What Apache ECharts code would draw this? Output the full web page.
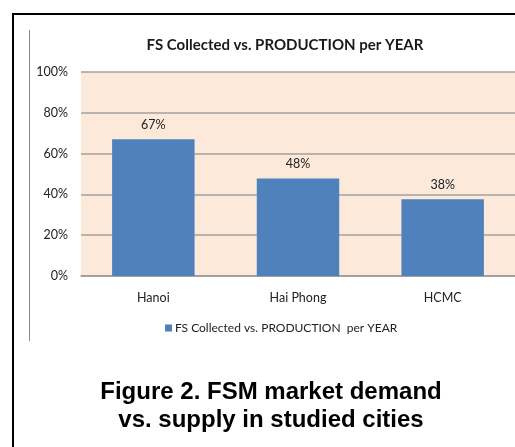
<!DOCTYPE html>
<html>
<head>
<meta charset="utf-8">
<script src="https://cdn.jsdelivr.net/npm/echarts@6/dist/echarts.min.js"></script>
<style>
html,body{margin:0;padding:0;background:#fff;}
#c{width:515px;height:447px;}
</style>
</head>
<body>
<div id="c"></div>
<script>
var categories = ['Hanoi', 'Hai Phong', 'HCMC'];
var values = [67, 47.8, 37.6];
var yTicks = [0, 20, 40, 60, 80, 100];
var seriesName = 'FS Collected vs. PRODUCTION  per YEAR';
var chartTitle = 'FS Collected vs. PRODUCTION per YEAR';
var caption = 'Figure 2. FSM market demand\nvs. supply in studied cities';

var chart = echarts.init(document.getElementById('c'), null, {renderer: 'canvas'});
var font = 'Lato, "Open Sans", sans-serif';
chart.setOption({
  animation: false,
  backgroundColor: '#ffffff',
  title: [
    {
      text: chartTitle, left: 280, top: 33, textAlign: 'center',
      textStyle: {fontFamily: font, fontSize: 15, fontWeight: 'bold', color: '#1a1a1a'}
    },
    {
      text: caption, left: 266, top: 373, textAlign: 'center',
      textStyle: {fontFamily: '"Liberation Sans", Arial, sans-serif', fontSize: 24, fontWeight: 'bold', color: '#000', lineHeight: 28}
    }
  ],
  legend: {
    data: [seriesName],
    left: 165, top: 322, padding: 0,
    itemWidth: 7, itemHeight: 7, itemGap: 4,
    icon: 'rect',
    textStyle: {fontFamily: font, fontSize: 12, color: '#222', padding: [0, 0, 0, -2]}
  },
  grid: {
    left: 81, right: -3, top: 72, bottom: 171,
    show: true, backgroundColor: '#FDE9D9', borderWidth: 0
  },
  xAxis: {
    type: 'category', data: categories,
    axisLine: {show: true, lineStyle: {color: '#9a9a9a', width: 1.5}},
    axisTick: {show: false},
    axisLabel: {fontFamily: font, fontSize: 12.5, color: '#222', margin: 15}
  },
  yAxis: {
    type: 'value', min: 0, max: 100, interval: 20,
    axisLine: {show: false}, axisTick: {show: false},
    splitLine: {lineStyle: {color: '#a0a0a0', width: 1.5}},
    axisLabel: {fontFamily: font, fontSize: 12.5, color: '#222', margin: 13,
      formatter: function (v) { return yTicks.indexOf(v) >= 0 ? v + '%' : ''; }}
  },
  series: [{
    name: seriesName, type: 'bar', data: values,
    barWidth: '57%',
    itemStyle: {color: '#4F81BD'},
    label: {show: true, position: 'top', distance: 8, fontFamily: font, fontSize: 12.5, color: '#222',
      formatter: function (p) { return Math.round(p.value) + '%'; }}
  }],
  graphic: [
    {type: 'line', shape: {x1: 13, y1: 14, x2: 13, y2: 447}, style: {stroke: '#000', lineWidth: 2}},
    {type: 'line', shape: {x1: 12, y1: 14, x2: 515, y2: 14}, style: {stroke: '#000', lineWidth: 2}},
    {type: 'line', shape: {x1: 29.5, y1: 30, x2: 29.5, y2: 341}, style: {stroke: '#8a8a8a', lineWidth: 1}}
  ]
});
</script>
</body>
</html>
